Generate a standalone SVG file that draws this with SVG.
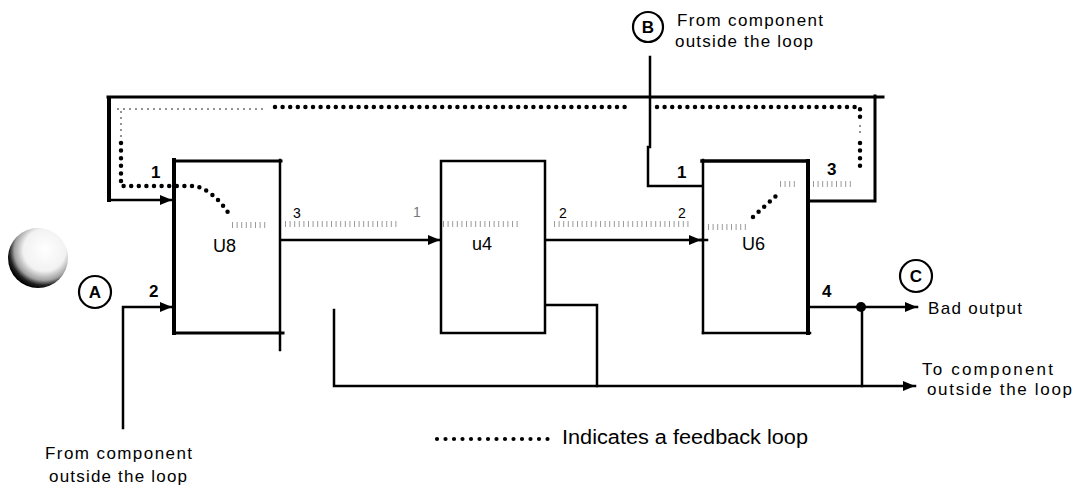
<svg xmlns="http://www.w3.org/2000/svg" width="1076" height="488" viewBox="0 0 1076 488">
<style>
.ln{fill:none;stroke:#000;stroke-width:2.5;stroke-linecap:square}
.thk{fill:none;stroke:#000;stroke-width:4}
.big{fill:none;stroke:#000;stroke-width:4.5;stroke-linecap:round;stroke-dasharray:0 7.6}
.sml{fill:none;stroke:#000;stroke-width:1.6;stroke-linecap:round;stroke-dasharray:0 6}
.tick{fill:none;stroke:#9a9a9a;stroke-width:6;stroke-dasharray:1 3.6}
.lbl{font-family:"Liberation Sans",Arial,sans-serif;font-size:18px;fill:#000}
.pin{font-family:"Liberation Sans",Arial,sans-serif;font-size:17px;font-weight:bold;fill:#000}
.sp{font-family:"Liberation Sans",Arial,sans-serif;font-size:14px;fill:#000}
.nar{font-family:"Liberation Sans",Arial,sans-serif;font-size:17px;fill:#000}
.circ{fill:#fff;stroke:#000;stroke-width:2.2}
.cl{font-family:"Liberation Sans",Arial,sans-serif;font-size:17px;font-weight:bold;fill:#000;text-anchor:middle}
</style>
<defs>
<marker id="ah" viewBox="0 0 12 10" refX="12" refY="5" markerWidth="12" markerHeight="10" markerUnits="userSpaceOnUse" orient="auto">
<path d="M0 0 L12 5 L0 10 Z" fill="#000"/>
</marker>
<radialGradient id="sph" cx="0.6" cy="0.38" r="0.64" fx="0.62" fy="0.35">
<stop offset="0" stop-color="#fff"/>
<stop offset="0.55" stop-color="#f2f2f2"/>
<stop offset="0.78" stop-color="#a0a0a0"/>
<stop offset="0.9" stop-color="#222"/>
<stop offset="1" stop-color="#000"/>
</radialGradient>
</defs>
<rect width="1076" height="488" fill="#fff"/>

<circle id="sphere" cx="38" cy="258" r="30" fill="url(#sph)"/>

<g id="connectors">
<path class="thk" d="M109 96 V202"/>
<path class="ln" style="stroke-width:3" d="M108 97 H883"/>
<path class="ln" style="stroke-width:3" d="M875 96 V201 H808"/>
<path class="ln" d="M110 200 H172" marker-end="url(#ah)"/>
<path class="ln" d="M123 428 V307 H172" marker-end="url(#ah)"/>
<path class="ln" d="M650 57 V147 H648 V186 H702"/>
<path class="ln" d="M282 240 H440" marker-end="url(#ah)"/>
<path class="ln" d="M547 240 H701" marker-end="url(#ah)"/>
<path class="ln" d="M700 240 H707"/>
<path class="ln" d="M808 307 H917" marker-end="url(#ah)"/>
<circle cx="861" cy="307" r="5" fill="#000"/>
<path class="ln" d="M862 307 V386"/>
<path class="ln" d="M547 305 H597 V386"/>
<path class="ln" d="M334 310 V386 H915" marker-end="url(#ah)"/>
<path class="sml" d="M121 112 V138"/>
<path class="big" d="M121 143 V186 H196 Q215 192 229 214"/>
<path class="sml" d="M118 109 H268"/>
<path class="big" d="M275 107 H628"/>
<path class="big" d="M657 107 H860 V120"/>
<path class="sml" d="M860 126 V138"/>
<path class="big" d="M860 143 V171"/>
<path class="big" d="M753 217 L777 195"/>
<path class="tick" d="M232 225 H266"/>
<path class="tick" d="M285 224 H400"/>
<path class="tick" d="M443 224 H521"/>
<path class="tick" d="M554 224 H690"/>
<path class="tick" d="M708 227 H746"/>
<path class="tick" d="M780 184 H797"/>
<path class="tick" d="M813 184 H852"/>
</g>

<g id="U8">
<path class="thk" d="M174 158 V335"/>
<path class="ln" style="stroke-width:3" d="M174 161 H281"/>
<path class="ln" d="M280 160 V350"/>
<path class="ln" style="stroke-width:3" d="M174 333 H283"/>
<text class="lbl" x="213" y="252">U8</text>
<text class="pin" x="151" y="178">1</text>
<text class="pin" x="149" y="297">2</text>
<text class="sp" x="293" y="218">3</text>
<text class="sp" x="413" y="217" style="fill:#777">1</text>
</g>

<g id="u4">
<rect x="441" y="161" width="104" height="172" fill="none" stroke="#000" stroke-width="2.5"/>
<text class="lbl" x="472" y="250">u4</text>
<text class="sp" x="559" y="218">2</text>
<text class="sp" x="678" y="218">2</text>
</g>

<g id="U6">
<path class="ln" d="M703 160 V333"/>
<path class="ln" style="stroke-width:3.5" d="M702 161 H808"/>
<path class="thk" d="M808 159 V335"/>
<path class="ln" d="M703 333 H810"/>
<text class="lbl" x="742" y="250">U6</text>
<text class="pin" x="677" y="178">1</text>
<text class="pin" x="827" y="175">3</text>
<text class="pin" x="822" y="297">4</text>
</g>

<g id="A">
<circle class="circ" cx="95" cy="292" r="16"/>
<text class="cl" x="95" y="298">A</text>
<text class="nar" x="45" y="459" textLength="147" lengthAdjust="spacing">From component</text>
<text class="nar" x="49" y="482" textLength="138" lengthAdjust="spacing">outside the loop</text>
</g>

<g id="B">
<circle class="circ" cx="648" cy="27" r="15"/>
<text class="cl" x="648" y="33">B</text>
<text class="nar" x="677" y="26" textLength="146" lengthAdjust="spacing">From component</text>
<text class="nar" x="675" y="47" textLength="138" lengthAdjust="spacing">outside the loop</text>
</g>

<g id="C">
<circle class="circ" cx="916" cy="276" r="16"/>
<text class="cl" x="916" y="282">C</text>
<text class="nar" x="928" y="314" textLength="94" lengthAdjust="spacing">Bad output</text>
</g>

<g id="to-component">
<text class="nar" x="922" y="375" textLength="131" lengthAdjust="spacing">To component</text>
<text class="nar" x="927" y="395" textLength="145" lengthAdjust="spacing">outside the loop</text>
</g>

<g id="legend">
<path class="big" style="stroke-width:4.2;stroke-dasharray:0 8.5" d="M437 439 H556"/>
<text class="lbl" x="562" y="444" style="font-size:20px" textLength="246" lengthAdjust="spacingAndGlyphs">Indicates a feedback loop</text>
</g>
</svg>
